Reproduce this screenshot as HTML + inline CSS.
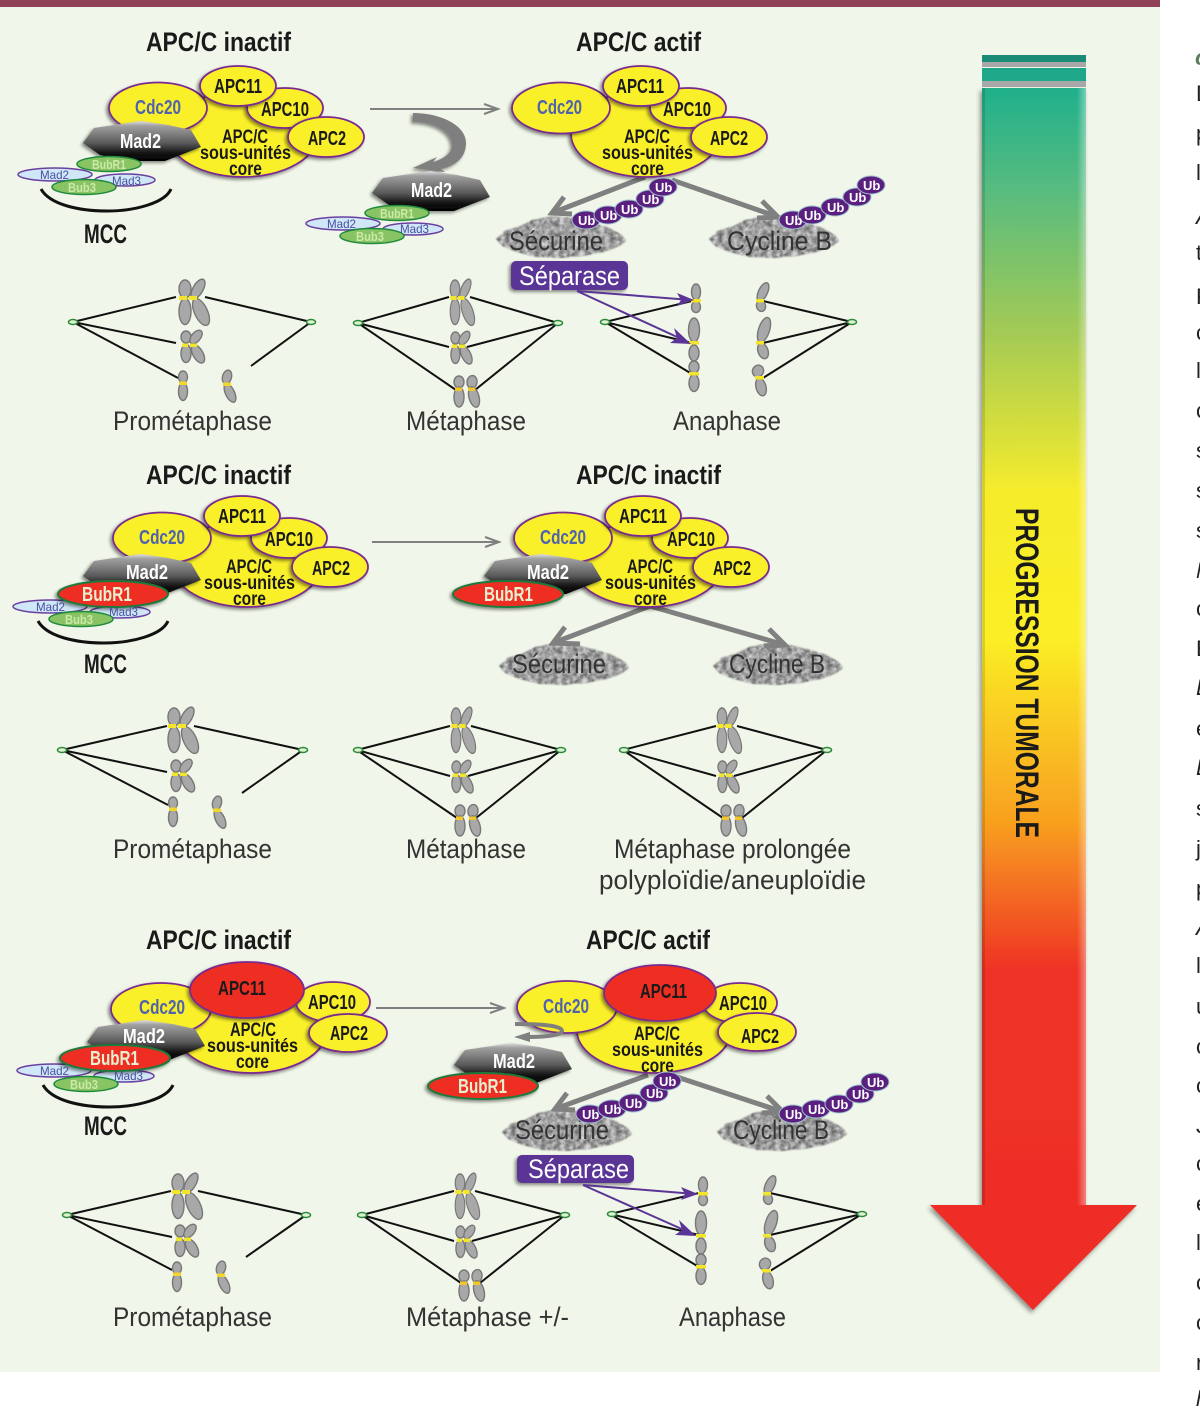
<!DOCTYPE html>
<html><head><meta charset="utf-8"><style>
html,body{margin:0;padding:0;background:#fff;width:1200px;height:1408px;overflow:hidden}
svg{display:block}
text{font-family:"Liberation Sans",sans-serif}
.h{font-weight:700;font-size:27px;fill:#1a1a1a}
.n{font-weight:700;font-size:20px;fill:#1a1a1a}
.c{font-weight:700;font-size:20px;fill:#4e62ae}
.w{font-weight:700;font-size:20px;fill:#fff}
.r{font-weight:700;font-size:20px;fill:#e6efd0}
.core{font-weight:700;font-size:19px;fill:#1a1a1a}
.l{font-size:27px;fill:#333}
.p{font-size:12px;font-weight:400;fill:#4a4fa3}
.g{font-size:13px;font-weight:700;fill:#cde8a8}
.u{font-size:13px;font-weight:700;fill:#fff}
.s{font-size:27px;fill:#fff}
.f{font-size:22px;fill:#222}
</style></head><body>
<svg width="1200" height="1408" viewBox="0 0 1200 1408" xmlns="http://www.w3.org/2000/svg">
<defs>
<filter id="sh" x="-20%" y="-20%" width="140%" height="140%"><feDropShadow dx="-2" dy="2" stdDeviation="1.5" flood-color="#000" flood-opacity=".45"/></filter>
<filter id="sh2" x="-10%" y="-10%" width="120%" height="120%"><feDropShadow dx="-2" dy="3" stdDeviation="2" flood-color="#333" flood-opacity=".5"/></filter>
<filter id="noise" x="-10%" y="-10%" width="120%" height="120%" color-interpolation-filters="sRGB">
<feTurbulence type="fractalNoise" baseFrequency=".2" numOctaves="2" seed="4" result="t"/>
<feColorMatrix in="t" type="matrix" values=".7 0 0 0 .27  .7 0 0 0 .27  .7 0 0 0 .27  0 0 0 0 1" result="g"/>
<feGaussianBlur in="SourceGraphic" stdDeviation=".8" result="d"/>
<feComposite in="g" in2="d" operator="in"/>
</filter>
<linearGradient id="big" gradientUnits="userSpaceOnUse" x1="0" y1="87" x2="0" y2="1312">
<stop offset="0" stop-color="#1fb08c"/><stop offset=".08" stop-color="#55bb80"/><stop offset=".2" stop-color="#a3ca55"/><stop offset=".33" stop-color="#f6ec2c"/><stop offset=".45" stop-color="#fbee25"/><stop offset=".6" stop-color="#f8a01f"/><stop offset=".72" stop-color="#ef3325"/><stop offset="1" stop-color="#ee2c25"/>
</linearGradient>
<linearGradient id="hl" x1="0" y1="0" x2="1" y2="0"><stop offset="0" stop-color="#fff" stop-opacity="0"/><stop offset="1" stop-color="#fff" stop-opacity=".4"/></linearGradient>
<linearGradient id="madg" x1="0" y1="0" x2="0" y2="1"><stop offset="0" stop-color="#e0e0e0"/><stop offset=".12" stop-color="#a0a0a0"/><stop offset=".55" stop-color="#5a5a5a"/><stop offset=".8" stop-color="#141414"/><stop offset="1" stop-color="#000"/></linearGradient>

<path id="mad" d="M-1,-20 L-48,-13 L-59,2 L-42,14 L-16,20 L23,20 L59,6 L49,-11 L26,-16 Z" fill="url(#madg)" filter="url(#sh)"/>

<g id="apcA" stroke="#7a2b8f" stroke-width="1.8" fill="#faf02b">
<ellipse cx="243" cy="134" rx="75" ry="43" filter="url(#sh)"/>
<ellipse cx="158" cy="108" rx="49" ry="25.5" filter="url(#sh)"/>
<ellipse cx="285" cy="108" rx="38" ry="20" filter="url(#sh)"/>
<ellipse cx="238" cy="86" rx="38" ry="20" filter="url(#sh)"/>
<ellipse cx="326" cy="137" rx="38" ry="20" filter="url(#sh)"/>
</g>

<g id="mcc3">
<ellipse cx="55" cy="174.5" rx="37" ry="6.5" fill="#cfe7f6" stroke="#6a3fa0" stroke-width="1.5"/>
<ellipse cx="125" cy="180" rx="30" ry="6" fill="#cfe7f6" stroke="#6a3fa0" stroke-width="1.5"/>
</g>
<ellipse id="oG" rx="32" ry="7.5" fill="#88c463" stroke="#1e8a3c" stroke-width="1.5"/>
<ellipse id="oR" rx="55" ry="13" fill="#ee2e24" stroke="#1e7a3c" stroke-width="2" filter="url(#sh)"/>
<path id="arc" d="M41,189 C50,205 80,211 107,211 C135,211 165,203 171,189" fill="none" stroke="#111" stroke-width="3"/>

<path id="blob" d="M-64,2 L-56,-6 L-40,-11 L-28,-17 L-8,-21 L14,-19 L34,-14 L50,-9 L62,-2 L66,4 L58,10 L44,15 L24,19 L0,21 L-24,20 L-44,15 L-58,9 Z" fill="#999" filter="url(#noise)"/>

<g id="ub"><ellipse rx="14" ry="9" fill="#5b1f7f" stroke="#9cc4cf" stroke-width="1"/></g>

<g id="xBig" fill="#a8a8a8" stroke="#777" stroke-width="1.4">
<ellipse cx="-5" cy="-9" rx="6" ry="9"/><ellipse cx="-5" cy="13.5" rx="6" ry="13"/>
<ellipse cx="8" cy="-9" rx="5" ry="11" transform="rotate(30 8 -9)"/><ellipse cx="11" cy="14" rx="6.5" ry="14.5" transform="rotate(-25 11 14)"/>
<rect x="-11" y="-2" width="8" height="4" fill="#f3e62a" stroke="none"/><rect x="-1" y="-2" width="8" height="4" fill="#f3e62a" stroke="none"/>
</g>
<g id="xMed" fill="#a8a8a8" stroke="#777" stroke-width="1.4">
<ellipse cx="-4" cy="-8" rx="5" ry="6"/><ellipse cx="-4" cy="8.5" rx="5" ry="9"/>
<ellipse cx="6" cy="-8" rx="4.5" ry="8" transform="rotate(40 6 -8)"/><ellipse cx="8" cy="9" rx="5" ry="10" transform="rotate(-30 8 9)"/>
<rect x="-8" y="-1.5" width="6" height="3.5" fill="#f3e62a" stroke="none"/><rect x="0" y="-1.5" width="7" height="3.5" fill="#f3e62a" stroke="none"/>
</g>
<g id="xPair" fill="#a8a8a8" stroke="#777" stroke-width="1.4">
<ellipse cx="-7" cy="-7" rx="5" ry="6"/><ellipse cx="-7" cy="8" rx="5" ry="10"/>
<ellipse cx="6" cy="-7" rx="5" ry="6.5" transform="rotate(8 6 -7)"/><ellipse cx="8" cy="8" rx="5" ry="10.5" transform="rotate(-15 8 8)"/>
<rect x="-11" y="-1.5" width="7" height="3.5" fill="#f3c62a" stroke="none"/><rect x="2" y="-1.5" width="7" height="3.5" fill="#f3c62a" stroke="none"/>
</g>
<g id="one" fill="#a8a8a8" stroke="#777" stroke-width="1.4">
<ellipse cx="0" cy="-6" rx="4.5" ry="6"/><ellipse cx="0" cy="8.5" rx="4.5" ry="9"/>
<rect x="-4" y="-1.5" width="8" height="3.5" fill="#f3d62a" stroke="none"/>
</g>
<g id="oneT" fill="#a8a8a8" stroke="#777" stroke-width="1.4">
<ellipse cx="0" cy="-7" rx="4.5" ry="7" transform="rotate(15 0 -7)"/><ellipse cx="3" cy="9" rx="4.5" ry="10" transform="rotate(-25 3 9)"/>
<rect x="-4" y="-1.5" width="8" height="3.5" fill="#f3d62a" stroke="none"/>
</g>
<g id="pole"><ellipse rx="4.5" ry="2.5" fill="#dff0d0" stroke="#2a8a3c" stroke-width="1.5"/></g>
<g id="ana" fill="#a8a8a8" stroke="#777" stroke-width="1.4">
<ellipse cx="696" cy="292" rx="4.5" ry="8"/><ellipse cx="696" cy="307" rx="4.5" ry="5.5"/>
<ellipse cx="694" cy="330" rx="5.5" ry="12"/><ellipse cx="694" cy="353" rx="5" ry="8"/>
<ellipse cx="694" cy="367" rx="5" ry="6"/><ellipse cx="694" cy="383" rx="5" ry="8.5"/>
<ellipse cx="763" cy="292" rx="4.5" ry="10" transform="rotate(25 763 292)"/><ellipse cx="761" cy="306" rx="4.5" ry="5.5" transform="rotate(-15 761 306)"/>
<ellipse cx="764" cy="330" rx="5.5" ry="13" transform="rotate(18 764 330)"/><ellipse cx="763" cy="351" rx="5" ry="8" transform="rotate(-20 763 351)"/>
<ellipse cx="758" cy="371" rx="5.5" ry="6" transform="rotate(30 758 371)"/><ellipse cx="761" cy="387" rx="5" ry="9" transform="rotate(-15 761 387)"/>
<g fill="#f3e62a" stroke="none"><rect x="691" y="299" width="10" height="3.5"/><rect x="689" y="341" width="10" height="3.5"/><rect x="689" y="372" width="10" height="3.5"/><rect x="756" y="299" width="8" height="3.5"/><rect x="756" y="341" width="8" height="3.5"/><rect x="755" y="376" width="9" height="3.5"/></g>
</g>
</defs>

<rect width="1200" height="1408" fill="#fff"/>
<rect x="0" y="0" width="1160" height="1372" fill="#f0f6e9"/>
<rect x="0" y="0" width="1160" height="7" fill="#8f4257"/>

<!-- big arrow -->
<rect x="982" y="61" width="104" height="6" fill="#a8a8a8"/>
<rect x="982" y="81" width="104" height="6" fill="#a8a8a8"/>
<rect x="982" y="55" width="104" height="7" fill="#1a8c76"/>
<rect x="982" y="68" width="104" height="13" fill="#1ea788"/>
<path d="M982,88 H1086 V1205 H1137 L1033,1310 L930,1205 H982 Z" fill="url(#big)" filter="url(#sh2)"/>
<rect x="1077" y="88" width="9" height="1117" fill="url(#hl)"/>
<rect x="982" y="88" width="3" height="1117" fill="#000" opacity=".12"/>
<text transform="translate(1016,508) rotate(90)" font-weight="700" font-size="32" fill="#1a1a1a" textLength="330" lengthAdjust="spacingAndGlyphs">PROGRESSION TUMORALE</text>

<!-- Panel 1 left -->
<use href="#apcA"/>
<use href="#mad" x="142" y="141"/>
<use href="#mcc3"/>
<use href="#oG" x="109" y="164"/><use href="#oG" x="84" y="187"/>
<use href="#arc"/>
<text class="c" x="135" y="114" textLength="46" lengthAdjust="spacingAndGlyphs">Cdc20</text>
<text class="n" x="214" y="93" textLength="48" lengthAdjust="spacingAndGlyphs">APC11</text>
<text class="n" x="261" y="116" textLength="48" lengthAdjust="spacingAndGlyphs">APC10</text>
<text class="n" x="308" y="145" textLength="38" lengthAdjust="spacingAndGlyphs">APC2</text>
<text class="core" x="222" y="143" textLength="46" lengthAdjust="spacingAndGlyphs">APC/C</text>
<text class="core" x="200" y="159" textLength="91" lengthAdjust="spacingAndGlyphs">sous-unités</text>
<text class="core" x="229" y="175" textLength="33" lengthAdjust="spacingAndGlyphs">core</text>
<text class="w" x="120" y="148" textLength="41" lengthAdjust="spacingAndGlyphs">Mad2</text>
<text class="p" x="40" y="179" textLength="29" lengthAdjust="spacingAndGlyphs">Mad2</text>
<text class="p" x="112" y="185" textLength="29" lengthAdjust="spacingAndGlyphs">Mad3</text>
<text class="g" x="92" y="169" textLength="34" lengthAdjust="spacingAndGlyphs">BubR1</text>
<text class="g" x="68" y="192" textLength="28" lengthAdjust="spacingAndGlyphs">Bub3</text>
<text class="h" x="84" y="243" textLength="43" lengthAdjust="spacingAndGlyphs">MCC</text>
<text class="h" x="146" y="51" textLength="145" lengthAdjust="spacingAndGlyphs">APC/C inactif</text>
<text class="h" x="576" y="51" textLength="125" lengthAdjust="spacingAndGlyphs">APC/C actif</text>

<!-- arrow & free Mad2 -->
<path d="M370,109 H495" stroke="#808080" stroke-width="2"/><path d="M484,104 L498,109 L484,114" fill="none" stroke="#808080" stroke-width="2"/>
<path d="M413,113 L413,122 C435,122 452,132 452,145 C452,155 440,160 433,162 L437,157 L413,168 L445,172 L441,169 C455,166 466,158 466,143 C466,125 440,113 413,113Z" fill="#7f7f7f" filter="url(#sh)"/>
<use href="#mad" x="431" y="191"/>
<g transform="translate(288,49)"><use href="#mcc3"/><use href="#oG" x="109" y="164"/><use href="#oG" x="84" y="187"/></g>
<text class="w" x="411" y="197" textLength="41" lengthAdjust="spacingAndGlyphs">Mad2</text>
<text class="p" x="327" y="228" textLength="29" lengthAdjust="spacingAndGlyphs">Mad2</text>
<text class="p" x="400" y="233" textLength="29" lengthAdjust="spacingAndGlyphs">Mad3</text>
<text class="g" x="380" y="218" textLength="34" lengthAdjust="spacingAndGlyphs">BubR1</text>
<text class="g" x="356" y="241" textLength="28" lengthAdjust="spacingAndGlyphs">Bub3</text>

<!-- Panel 1 right -->
<use href="#blob" x="560" y="237"/><use href="#blob" x="773" y="237"/>
<g fill="none" stroke="#808080" stroke-width="5"><path d="M645,177 L552,213"/><path d="M564,197 L552,213 L572,214"/><path d="M672,180 L778,217"/><path d="M762,201 L778,217 L757,218"/></g>
<use href="#apcA" x="403"/>
<text class="c" x="537" y="114" textLength="45" lengthAdjust="spacingAndGlyphs">Cdc20</text>
<text class="n" x="616" y="93" textLength="48" lengthAdjust="spacingAndGlyphs">APC11</text>
<text class="n" x="663" y="116" textLength="48" lengthAdjust="spacingAndGlyphs">APC10</text>
<text class="n" x="710" y="145" textLength="38" lengthAdjust="spacingAndGlyphs">APC2</text>
<text class="core" x="624" y="143" textLength="46" lengthAdjust="spacingAndGlyphs">APC/C</text>
<text class="core" x="602" y="159" textLength="91" lengthAdjust="spacingAndGlyphs">sous-unités</text>
<text class="core" x="631" y="175" textLength="33" lengthAdjust="spacingAndGlyphs">core</text>
<text class="l" x="509" y="250" textLength="94" lengthAdjust="spacingAndGlyphs">Sécurine</text>
<text class="l" x="727" y="250" textLength="105" lengthAdjust="spacingAndGlyphs">Cycline B</text>
<use href="#ub" x="586" y="220"/><use href="#ub" x="608" y="215"/><use href="#ub" x="629" y="209"/><use href="#ub" x="650" y="199"/><use href="#ub" x="663" y="187"/>
<use href="#ub" x="793" y="220"/><use href="#ub" x="812" y="215"/><use href="#ub" x="835" y="207"/><use href="#ub" x="857" y="197"/><use href="#ub" x="871" y="185"/>
<text class="u" x="578" y="225">Ub</text><text class="u" x="600" y="220">Ub</text><text class="u" x="621" y="214">Ub</text><text class="u" x="642" y="204">Ub</text><text class="u" x="655" y="192">Ub</text>
<text class="u" x="785" y="225">Ub</text><text class="u" x="804" y="220">Ub</text><text class="u" x="827" y="212">Ub</text><text class="u" x="849" y="202">Ub</text><text class="u" x="863" y="190">Ub</text>
<rect x="511" y="261" width="117" height="29" rx="5" fill="#5a3596" filter="url(#sh)"/>
<text class="s" x="519" y="285" textLength="101" lengthAdjust="spacingAndGlyphs">Séparase</text>

<!-- spindles row 1 -->
<g fill="none" stroke="#111" stroke-width="2">
<path d="M73,322 L176,297 M73,322 L176,343 M73,322 L178,378 M311,322 L205,297 M311,322 L251,366"/>
<path d="M358,323 L449,297 M358,323 L449,347 M358,323 L456,390 M558,323 L470,297 M558,323 L467,347 M558,323 L475,390"/>
<path d="M605,322 L692,301 M605,322 L692,343 M605,322 L692,374 M852,322 L763,301 M852,322 L763,343 M852,322 L763,378"/>
</g>
<use href="#pole" x="73" y="322"/><use href="#pole" x="311" y="322"/><use href="#pole" x="358" y="323"/><use href="#pole" x="558" y="323"/><use href="#pole" x="605" y="322"/><use href="#pole" x="852" y="322"/>
<use href="#xBig" x="190" y="298"/><use href="#xMed" x="190" y="345"/><use href="#one" x="183" y="383"/><use href="#oneT" x="227" y="384"/>
<g transform="translate(459,298) scale(.8,1)"><use href="#xBig"/></g><g transform="translate(459,346) scale(.9,1)"><use href="#xMed"/></g><use href="#xPair" x="466" y="389"/>
<use href="#ana"/>
<g fill="none" stroke="#5a3596" stroke-width="2"><path d="M577,291 L691,300 M577,291 L688,342"/></g><path d="M677,293 L694,300 L677,306 L681,300Z M674,328 L691,344 L670,343 L677,338Z" fill="#5a3596"/>
<text class="l" x="113" y="430" textLength="159" lengthAdjust="spacingAndGlyphs">Prométaphase</text>
<text class="l" x="406" y="430" textLength="120" lengthAdjust="spacingAndGlyphs">Métaphase</text>
<text class="l" x="673" y="430" textLength="108" lengthAdjust="spacingAndGlyphs">Anaphase</text>

<!-- Panel 2 -->
<text class="h" x="146" y="484" textLength="145" lengthAdjust="spacingAndGlyphs">APC/C inactif</text>
<text class="h" x="576" y="484" textLength="145" lengthAdjust="spacingAndGlyphs">APC/C inactif</text>
<use href="#apcA" x="4" y="430"/>
<use href="#mad" x="142" y="574"/>
<g transform="translate(-5,432)"><use href="#mcc3"/></g>
<use href="#oR" x="113" y="594"/><use href="#oG" x="81" y="619"/>
<g transform="translate(-3,432)"><use href="#arc"/></g>
<text class="c" x="139" y="544" textLength="46" lengthAdjust="spacingAndGlyphs">Cdc20</text>
<text class="n" x="218" y="523" textLength="48" lengthAdjust="spacingAndGlyphs">APC11</text>
<text class="n" x="265" y="546" textLength="48" lengthAdjust="spacingAndGlyphs">APC10</text>
<text class="n" x="312" y="575" textLength="38" lengthAdjust="spacingAndGlyphs">APC2</text>
<text class="core" x="226" y="573" textLength="46" lengthAdjust="spacingAndGlyphs">APC/C</text>
<text class="core" x="204" y="589" textLength="91" lengthAdjust="spacingAndGlyphs">sous-unités</text>
<text class="core" x="233" y="605" textLength="33" lengthAdjust="spacingAndGlyphs">core</text>
<text class="w" x="126" y="579" textLength="42" lengthAdjust="spacingAndGlyphs">Mad2</text>
<text class="r" x="82" y="601" textLength="50" lengthAdjust="spacingAndGlyphs">BubR1</text>
<text class="p" x="36" y="611" textLength="29" lengthAdjust="spacingAndGlyphs">Mad2</text>
<text class="p" x="109" y="616" textLength="29" lengthAdjust="spacingAndGlyphs">Mad3</text>
<text class="g" x="65" y="624" textLength="28" lengthAdjust="spacingAndGlyphs">Bub3</text>
<text class="h" x="84" y="673" textLength="43" lengthAdjust="spacingAndGlyphs">MCC</text>
<path d="M372,542 H496" stroke="#808080" stroke-width="2"/><path d="M485,537 L499,542 L485,547" fill="none" stroke="#808080" stroke-width="2"/>

<use href="#blob" x="563" y="664"/><use href="#blob" x="777" y="664"/>
<g fill="none" stroke="#808080" stroke-width="5"><path d="M650,606 L553,643"/><path d="M565,627 L553,643 L580,644"/><path d="M650,606 L785,645"/><path d="M769,629 L785,645 L764,646"/></g>
<use href="#apcA" x="405" y="430"/>
<use href="#mad" x="543" y="574"/>
<use href="#oR" x="508" y="594"/>
<text class="c" x="540" y="544" textLength="46" lengthAdjust="spacingAndGlyphs">Cdc20</text>
<text class="n" x="619" y="523" textLength="48" lengthAdjust="spacingAndGlyphs">APC11</text>
<text class="n" x="667" y="546" textLength="48" lengthAdjust="spacingAndGlyphs">APC10</text>
<text class="n" x="713" y="575" textLength="38" lengthAdjust="spacingAndGlyphs">APC2</text>
<text class="core" x="627" y="573" textLength="46" lengthAdjust="spacingAndGlyphs">APC/C</text>
<text class="core" x="605" y="589" textLength="91" lengthAdjust="spacingAndGlyphs">sous-unités</text>
<text class="core" x="634" y="605" textLength="33" lengthAdjust="spacingAndGlyphs">core</text>
<text class="w" x="527" y="579" textLength="42" lengthAdjust="spacingAndGlyphs">Mad2</text>
<text class="r" x="484" y="601" textLength="49" lengthAdjust="spacingAndGlyphs">BubR1</text>
<text class="l" x="512" y="673" textLength="94" lengthAdjust="spacingAndGlyphs">Sécurine</text>
<text class="l" x="729" y="673" textLength="96" lengthAdjust="spacingAndGlyphs">Cycline B</text>

<g fill="none" stroke="#111" stroke-width="2">
<path d="M62,750 L167,726 M62,750 L167,772 M62,750 L168,805 M303,750 L194,726 M303,750 L242,793"/>
<path d="M357,750 L450,726 M357,750 L450,776 M357,750 L457,818 M561,750 L471,726 M561,750 L468,776 M561,750 L476,818"/>
<path d="M623,750 L716,726 M623,750 L716,776 M623,750 L723,818 M827,750 L737,726 M827,750 L734,776 M827,750 L742,818"/>
</g>
<use href="#pole" x="62" y="750"/><use href="#pole" x="303" y="750"/><use href="#pole" x="358" y="750"/><use href="#pole" x="561" y="750"/><use href="#pole" x="624" y="750"/><use href="#pole" x="827" y="750"/>
<use href="#xBig" x="179" y="726"/><use href="#xMed" x="180" y="774"/><use href="#one" x="173" y="809"/><use href="#oneT" x="217" y="810"/>
<g transform="translate(460,726) scale(.8,1)"><use href="#xBig"/></g><g transform="translate(460,775) scale(.9,1)"><use href="#xMed"/></g><use href="#xPair" x="467" y="818"/>
<g transform="translate(726,726) scale(.8,1)"><use href="#xBig"/></g><g transform="translate(726,775) scale(.9,1)"><use href="#xMed"/></g><use href="#xPair" x="733" y="818"/>
<text class="l" x="113" y="858" textLength="159" lengthAdjust="spacingAndGlyphs">Prométaphase</text>
<text class="l" x="406" y="858" textLength="120" lengthAdjust="spacingAndGlyphs">Métaphase</text>
<text class="l" x="614" y="858" textLength="237" lengthAdjust="spacingAndGlyphs">Métaphase prolongée</text>
<text class="l" x="599" y="889" textLength="267" lengthAdjust="spacingAndGlyphs">polyploïdie/aneuploïdie</text>

<!-- Panel 3 -->
<text class="h" x="146" y="949" textLength="145" lengthAdjust="spacingAndGlyphs">APC/C inactif</text>
<text class="h" x="586" y="949" textLength="124" lengthAdjust="spacingAndGlyphs">APC/C actif</text>
<g stroke="#7a2b8f" stroke-width="1.8" fill="#faf02b">
<ellipse cx="251" cy="1030" rx="76" ry="43" filter="url(#sh)"/>
<ellipse cx="161" cy="1009" rx="50" ry="26" filter="url(#sh)"/>
<ellipse cx="333" cy="1002" rx="37" ry="20" filter="url(#sh)"/>
<ellipse cx="348" cy="1033" rx="39" ry="19" filter="url(#sh)"/>
<ellipse cx="247" cy="990" rx="57" ry="28" fill="#ee2e24" filter="url(#sh)"/>
</g>
<use href="#mad" x="146" y="1040"/>
<g transform="translate(-1,896)"><use href="#mcc3"/></g>
<use href="#oR" x="115" y="1058"/><use href="#oG" x="86" y="1084"/>
<g transform="translate(2,896)"><use href="#arc"/></g>
<text class="c" x="139" y="1014" textLength="46" lengthAdjust="spacingAndGlyphs">Cdc20</text>
<text class="n" x="218" y="995" textLength="48" lengthAdjust="spacingAndGlyphs">APC11</text>
<text class="n" x="308" y="1009" textLength="48" lengthAdjust="spacingAndGlyphs">APC10</text>
<text class="n" x="330" y="1040" textLength="38" lengthAdjust="spacingAndGlyphs">APC2</text>
<text class="core" x="230" y="1036" textLength="46" lengthAdjust="spacingAndGlyphs">APC/C</text>
<text class="core" x="207" y="1052" textLength="91" lengthAdjust="spacingAndGlyphs">sous-unités</text>
<text class="core" x="236" y="1068" textLength="33" lengthAdjust="spacingAndGlyphs">core</text>
<text class="w" x="123" y="1043" textLength="42" lengthAdjust="spacingAndGlyphs">Mad2</text>
<text class="r" x="90" y="1065" textLength="49" lengthAdjust="spacingAndGlyphs">BubR1</text>
<text class="p" x="40" y="1075" textLength="29" lengthAdjust="spacingAndGlyphs">Mad2</text>
<text class="p" x="114" y="1080" textLength="29" lengthAdjust="spacingAndGlyphs">Mad3</text>
<text class="g" x="70" y="1089" textLength="28" lengthAdjust="spacingAndGlyphs">Bub3</text>
<text class="h" x="84" y="1135" textLength="43" lengthAdjust="spacingAndGlyphs">MCC</text>
<path d="M376,1008 H501" stroke="#808080" stroke-width="2"/><path d="M490,1003 L504,1008 L490,1013" fill="none" stroke="#808080" stroke-width="2"/>

<use href="#blob" x="566" y="1130"/><use href="#blob" x="781" y="1130"/>
<g fill="none" stroke="#808080" stroke-width="5"><path d="M648,1075 L555,1109"/><path d="M567,1093 L555,1109 L575,1110"/><path d="M677,1077 L783,1112"/><path d="M767,1096 L783,1112 L762,1113"/></g>
<g stroke="#7a2b8f" stroke-width="1.8" fill="#faf02b">
<ellipse cx="654" cy="1031" rx="77" ry="42" filter="url(#sh)"/>
<ellipse cx="567" cy="1007" rx="50" ry="26" filter="url(#sh)"/>
<ellipse cx="740" cy="1003" rx="37" ry="20" filter="url(#sh)"/>
<ellipse cx="757" cy="1032" rx="39" ry="19" filter="url(#sh)"/>
<ellipse cx="660" cy="993" rx="56" ry="28" fill="#ee2e24" filter="url(#sh)"/>
</g>
<path d="M515,1024 C545,1024 562,1026 562,1031 C562,1036 540,1037 526,1037" fill="none" stroke="#7f7f7f" stroke-width="4"/><path d="M514,1037 L530,1032 L530,1042 Z" fill="#7f7f7f"/>
<use href="#mad" x="513" y="1063"/>
<use href="#oR" x="483" y="1086"/>
<text class="c" x="543" y="1013" textLength="46" lengthAdjust="spacingAndGlyphs">Cdc20</text>
<text class="n" x="640" y="998" textLength="47" lengthAdjust="spacingAndGlyphs">APC11</text>
<text class="n" x="719" y="1010" textLength="48" lengthAdjust="spacingAndGlyphs">APC10</text>
<text class="n" x="741" y="1043" textLength="38" lengthAdjust="spacingAndGlyphs">APC2</text>
<text class="core" x="634" y="1040" textLength="46" lengthAdjust="spacingAndGlyphs">APC/C</text>
<text class="core" x="612" y="1056" textLength="91" lengthAdjust="spacingAndGlyphs">sous-unités</text>
<text class="core" x="641" y="1072" textLength="33" lengthAdjust="spacingAndGlyphs">core</text>
<text class="w" x="493" y="1068" textLength="42" lengthAdjust="spacingAndGlyphs">Mad2</text>
<text class="r" x="458" y="1093" textLength="49" lengthAdjust="spacingAndGlyphs">BubR1</text>
<text class="l" x="515" y="1139" textLength="94" lengthAdjust="spacingAndGlyphs">Sécurine</text>
<text class="l" x="733" y="1139" textLength="96" lengthAdjust="spacingAndGlyphs">Cycline B</text>
<use href="#ub" x="590" y="1114"/><use href="#ub" x="612" y="1109"/><use href="#ub" x="633" y="1103"/><use href="#ub" x="654" y="1093"/><use href="#ub" x="667" y="1081"/>
<use href="#ub" x="793" y="1114"/><use href="#ub" x="816" y="1109"/><use href="#ub" x="839" y="1104"/><use href="#ub" x="860" y="1094"/><use href="#ub" x="875" y="1082"/>
<text class="u" x="582" y="1119">Ub</text><text class="u" x="604" y="1114">Ub</text><text class="u" x="625" y="1108">Ub</text><text class="u" x="646" y="1098">Ub</text><text class="u" x="659" y="1086">Ub</text>
<text class="u" x="785" y="1119">Ub</text><text class="u" x="808" y="1114">Ub</text><text class="u" x="831" y="1109">Ub</text><text class="u" x="852" y="1099">Ub</text><text class="u" x="867" y="1087">Ub</text>
<rect x="517" y="1155" width="117" height="28" rx="5" fill="#5a3596" filter="url(#sh)"/>
<text class="s" x="528" y="1178" textLength="101" lengthAdjust="spacingAndGlyphs">Séparase</text>

<g fill="none" stroke="#111" stroke-width="2">
<path d="M67,1215 L171,1191 M67,1215 L172,1237 M67,1215 L172,1270 M306,1215 L198,1191 M306,1215 L246,1257"/>
<path d="M362,1215 L454,1191 M362,1215 L454,1241 M362,1215 L461,1283 M565,1215 L475,1191 M565,1215 L472,1241 M565,1215 L480,1283"/>
<path d="M610,1214 L699,1193 M610,1214 L699,1235 M610,1214 L699,1267 M862,1214 L770,1193 M862,1214 L770,1235 M862,1214 L770,1271"/>
</g>
<use href="#pole" x="67" y="1215"/><use href="#pole" x="306" y="1215"/><use href="#pole" x="362" y="1215"/><use href="#pole" x="565" y="1215"/><use href="#pole" x="612" y="1214"/><use href="#pole" x="862" y="1214"/>
<use href="#xBig" x="183" y="1192"/><use href="#xMed" x="184" y="1239"/><use href="#one" x="177" y="1274"/><use href="#oneT" x="221" y="1275"/>
<g transform="translate(464,1192) scale(.8,1)"><use href="#xBig"/></g><g transform="translate(464,1240) scale(.9,1)"><use href="#xMed"/></g><use href="#xPair" x="471" y="1283"/>
<g transform="translate(7,893)"><use href="#ana"/></g>
<g fill="none" stroke="#5a3596" stroke-width="2"><path d="M583,1185 L695,1194 M583,1185 L693,1234"/></g><path d="M681,1187 L698,1194 L681,1200 L685,1194Z M679,1220 L696,1236 L675,1235 L682,1230Z" fill="#5a3596"/>
<text class="l" x="113" y="1326" textLength="159" lengthAdjust="spacingAndGlyphs">Prométaphase</text>
<text class="l" x="406" y="1326" textLength="163" lengthAdjust="spacingAndGlyphs">Métaphase +/-</text>
<text class="l" x="679" y="1326" textLength="107" lengthAdjust="spacingAndGlyphs">Anaphase</text>

<!-- cut-off text at right edge -->
<text class="f" x="1195" y="65" style="fill:#5c7d5c;font-style:italic;font-weight:700">c</text>
<text class="f" x="1196" y="101">D</text><text class="f" x="1196" y="141">p</text><text class="f" x="1196" y="180">l</text>
<text class="f" x="1196" y="224" style="font-style:italic">A</text><text class="f" x="1196" y="260">t</text><text class="f" x="1196" y="304">P</text>
<text class="f" x="1196" y="340">c</text><text class="f" x="1196" y="378">l</text><text class="f" x="1196" y="418">c</text>
<text class="f" x="1196" y="458">s</text><text class="f" x="1196" y="498">s</text><text class="f" x="1196" y="538">s</text>
<text class="f" x="1196" y="578" style="font-style:italic">M</text><text class="f" x="1196" y="616">c</text><text class="f" x="1196" y="656">E</text>
<text class="f" x="1196" y="695" style="font-style:italic">L</text><text class="f" x="1196" y="736">e</text><text class="f" x="1196" y="775" style="font-style:italic">L</text>
<text class="f" x="1196" y="816">s</text><text class="f" x="1196" y="856">j</text><text class="f" x="1196" y="896">p</text>
<text class="f" x="1196" y="935" style="font-style:italic">A</text><text class="f" x="1196" y="973">l</text><text class="f" x="1196" y="1014">u</text>
<text class="f" x="1196" y="1054">c</text><text class="f" x="1196" y="1093">c</text><text class="f" x="1196" y="1133">J</text>
<text class="f" x="1196" y="1171">c</text><text class="f" x="1196" y="1211">e</text><text class="f" x="1196" y="1250">l</text>
<text class="f" x="1196" y="1290">c</text><text class="f" x="1196" y="1330">c</text><text class="f" x="1196" y="1370">r</text><text class="f" x="1196" y="1406" style="font-style:italic">l</text>
</svg>
</body></html>
